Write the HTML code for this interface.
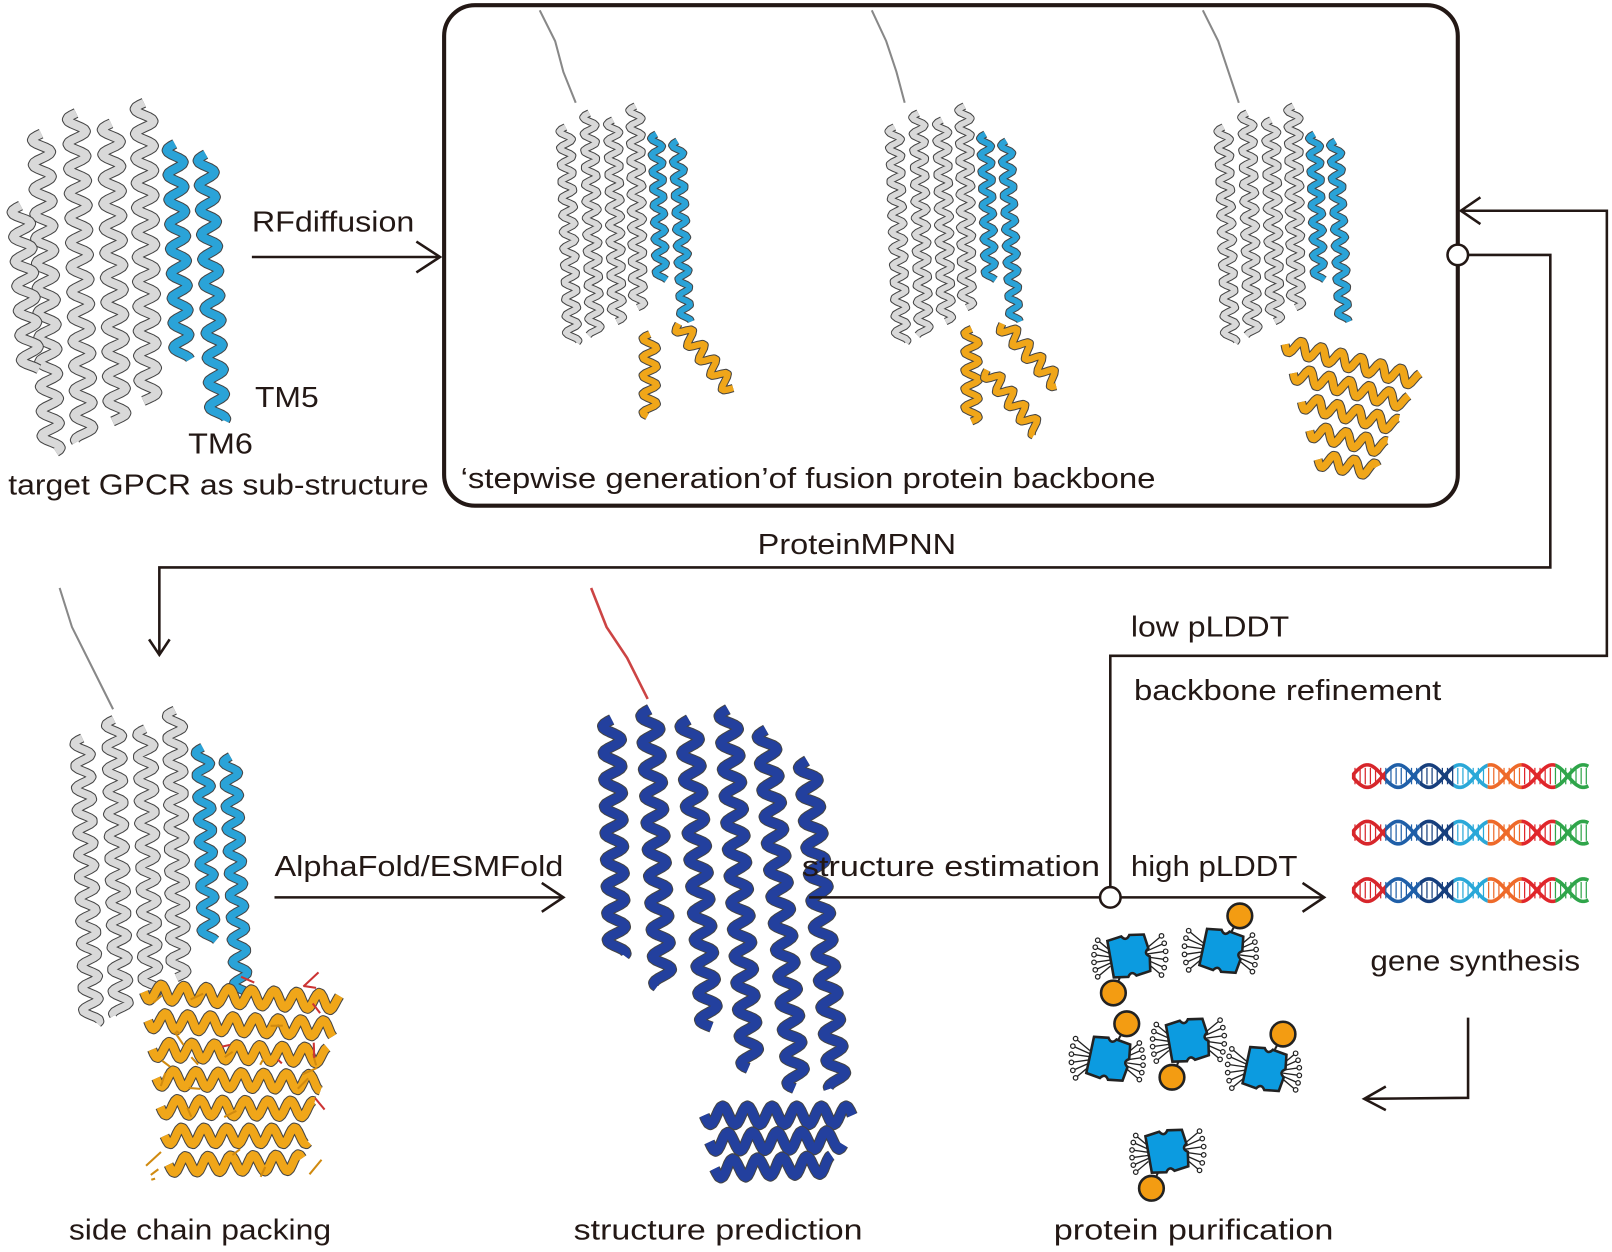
<!DOCTYPE html>
<html><head><meta charset="utf-8"><style>
html,body{margin:0;padding:0;background:#fff;}
svg{display:block;}
text{font-family:"Liberation Sans",sans-serif;font-size:28px;fill:#231815;}
</style></head><body>
<svg id="s" width="1612" height="1252" viewBox="0 0 1568 1218" preserveAspectRatio="none" xmlns="http://www.w3.org/2000/svg">
<g id="prot"></g>
<g fill="none" stroke="#231815" stroke-width="2.5">
<rect x="432" y="5" width="986" height="487" rx="30" stroke-width="4"/>
<line x1="245" y1="250" x2="428" y2="250"/>
<polyline points="405,235 428,250 405,265"/>
<polyline points="1428,248 1508,248 1508,552 155,552 155,636"/>
<polyline points="145,622 155,637 165,622"/>
<polyline points="1080,862 1080,638 1563,638 1563,205 1422,205"/>
<polyline points="1440,192 1421,205 1440,218"/>
<line x1="267" y1="873" x2="548" y2="873"/>
<polyline points="527,859 548,873 527,887"/>
<line x1="787" y1="873" x2="1288" y2="873"/>
<polyline points="1267,859 1288,873 1267,887"/>
<polyline points="1428,990 1428,1068 1327,1069"/>
<polyline points="1348,1057 1327,1069 1348,1080"/>
</g>
<circle cx="1418" cy="248" r="10" fill="#fff" stroke="#231815" stroke-width="2.5"/>
<circle cx="1080" cy="873" r="10" fill="#fff" stroke="#231815" stroke-width="2.5"/>
<g id="dna"></g>
<g id="icons"></g>
<text x="245" y="225" textLength="158" lengthAdjust="spacingAndGlyphs">RFdiffusion</text>
<text x="248" y="396" textLength="62" lengthAdjust="spacingAndGlyphs">TM5</text>
<text x="183" y="441" textLength="63" lengthAdjust="spacingAndGlyphs">TM6</text>
<text x="8" y="481" textLength="409" lengthAdjust="spacingAndGlyphs">target GPCR as sub-structure</text>
<text x="448" y="475" textLength="676" lengthAdjust="spacingAndGlyphs">‘stepwise generation’of fusion protein backbone</text>
<text x="737" y="539" textLength="193" lengthAdjust="spacingAndGlyphs">ProteinMPNN</text>
<text x="1100" y="619" textLength="154" lengthAdjust="spacingAndGlyphs">low pLDDT</text>
<text x="1103" y="681" textLength="299" lengthAdjust="spacingAndGlyphs">backbone refinement</text>
<text x="267" y="852" textLength="281" lengthAdjust="spacingAndGlyphs">AlphaFold/ESMFold</text>
<text x="780" y="852" textLength="290" lengthAdjust="spacingAndGlyphs">structure estimation</text>
<text x="1100" y="852" textLength="162" lengthAdjust="spacingAndGlyphs">high pLDDT</text>
<text x="1333" y="944" textLength="204" lengthAdjust="spacingAndGlyphs">gene synthesis</text>
<text x="67" y="1206" textLength="255" lengthAdjust="spacingAndGlyphs">side chain packing</text>
<text x="558" y="1206" textLength="281" lengthAdjust="spacingAndGlyphs">structure prediction</text>
<text x="1025" y="1206" textLength="272" lengthAdjust="spacingAndGlyphs">protein purification</text>
</svg>
<script>
var NS="http://www.w3.org/2000/svg";
var P=document.getElementById('prot');
function el(g,t,a){var e=document.createElementNS(NS,t);for(var k in a)e.setAttribute(k,a[k]);g.appendChild(e);return e;}
function helix(x1,y1,x2,y2,col,w,amp,per){
 amp=amp||8;per=per||22;w=w||7;
 var dx=x2-x1,dy=y2-y1,L=Math.hypot(dx,dy),ux=dx/L,uy=dy/L,nx=-uy,ny=ux,d="";
 for(var t=0;t<=L;t+=2){var o=amp*Math.sin(t/per*2*Math.PI);var x=x1+ux*t+nx*o,y=y1+uy*t+ny*o;d+=(t?"L":"M")+x.toFixed(1)+" "+y.toFixed(1);}
 el(P,'path',{d:d,fill:'none',stroke:'#444',"stroke-width":w+2,"stroke-linejoin":'round'});
 el(P,'path',{d:d,fill:'none',stroke:col,"stroke-width":w,"stroke-linejoin":'round'});
}
function tail(pts){el(P,'polyline',{points:pts,fill:'none',stroke:'#888',"stroke-width":2});}
var G='#d9d9d9',B='#2aa3d8',O='#f0a619',D='#23409e';
function gpcr(ox,oy,s){
 var gs=[[0,20,10,330],[34,0,42,320],[68,10,74,300],[100,-10,104,280]];
 gs.forEach(function(g){helix(ox+g[0]*s,oy+g[1]*s,ox+g[2]*s,oy+g[3]*s,G,8*s,9*s,24*s);});
 helix(ox+130*s,oy+30*s,ox+137*s,oy+240*s,B,8*s,8*s,24*s);
 helix(ox+160*s,oy+40*s,ox+172*s,oy+300*s,B,8*s,8*s,24*s);
}
gpcr(40,110,1.0);
helix(20,200,30,360,G,8,9,24);
tail("525,10 540,40 548,70 560,100");gpcr(550,110,0.68);
helix(632,325,632,405,O,6,7,18);helix(660,315,712,380,O,6,7,18);
tail("848,10 862,40 872,70 880,100");gpcr(870,110,0.68);
helix(945,320,945,410,O,6,7,18);helix(975,315,1030,375,O,6,7,18);helix(960,360,1010,420,O,6,7,18);
tail("1170,10 1185,40 1195,70 1205,100");gpcr(1190,110,0.68);
for(var i=0;i<5;i++){helix(1250+i*8,335+i*28,1380-i*10,370+i*22,O,7,7,20);}
tail("58,572 70,610 90,650 110,690");gpcr(80,700,0.9);
for(var i=0;i<7;i++){helix(140+i*4,965+i*28,330-i*6,975+i*26,O,8,8,22);}
for(var i=0;i<30;i++){var x=135+Math.random()*195,y=950+Math.random()*210;el(P,'line',{x1:x,y1:y,x2:x+(Math.random()-.5)*30,y2:y+(Math.random()-.5)*30,stroke:i%4?'#d08a10':'#c33',"stroke-width":2});}
el(P,'polyline',{points:"575,572 590,610 610,640 630,680",fill:'none',stroke:'#c44',"stroke-width":2.5});
var bh=[[595,700,600,930],[632,690,645,960],[670,700,690,1000],[708,690,730,1040],[745,710,775,1060],[785,740,815,1060]];
bh.forEach(function(h){helix(h[0],h[1],h[2],h[3],D,9,9,26);});
for(var i=0;i<3;i++)helix(685+i*5,1085+i*26,830-i*10,1085+i*24,D,9,9,24);
var Dg=document.getElementById('dna');
var cols=['#d7262b','#1f5fa8','#173f7d','#2aa8d8','#ee6a2a','#e0262b','#2fa54a'];
var defs=el(document.getElementById('s'),'defs',{});
for(var c=0;c<7;c++){var cp=el(defs,'clipPath',{id:'c'+c});el(cp,'rect',{x:1315+c*33,y:700,width:33,height:200});}
[755,810,866].forEach(function(yc){
 for(var k=0;k<2;k++){var d="";for(var x=1315;x<=1545;x+=2){var y=yc+11*Math.sin((x-1315)/30*Math.PI+(k?Math.PI:0));d+=(x==1315?"M":"L")+x+" "+y.toFixed(1);}
  for(var c=0;c<7;c++){el(Dg,'path',{d:d,fill:'none',stroke:cols[c],"stroke-width":3.5,"clip-path":"url(#c"+c+")"});}}
 for(var x=1318;x<1545;x+=5)el(Dg,'line',{x1:x,y1:yc-8,x2:x,y2:yc+8,stroke:cols[Math.floor((x-1315)/33)%7],"stroke-width":1.2});
});
var I=document.getElementById('icons');
[[1098,930,1],[1188,925,0],[1078,1030,0],[1155,1012,1],[1230,1040,0],[1135,1120,1]].forEach(function(p){
 var g=el(I,'g',{transform:'translate('+p[0]+','+p[1]+')'});
 var oy=p[2]?36:-34,ox=p[2]?-15:18;
 for(var j=0;j<6;j++){var a=(-40+j*16)*Math.PI/180,side=p[2]?1:-1;
  el(g,'line',{x1:side*18,y1:-8+j*3,x2:side*(18+18*Math.cos(a)),y2:-8+j*3+18*Math.sin(a),stroke:'#222',"stroke-width":1.3});
  el(g,'circle',{cx:side*(18+18*Math.cos(a)),cy:-8+j*3+18*Math.sin(a),r:2.2,fill:'#fff',stroke:'#222',"stroke-width":1.2});
  el(g,'line',{x1:-side*18,y1:-5+j*3,x2:-side*(18+16*Math.cos(a)),y2:-5+j*3+16*Math.sin(a),stroke:'#222',"stroke-width":1.3});
  el(g,'circle',{cx:-side*(18+16*Math.cos(a)),cy:-5+j*3+16*Math.sin(a),r:2.2,fill:'#fff',stroke:'#222',"stroke-width":1.2});}
 el(g,'line',{x1:0,y1:0,x2:ox,y2:oy,stroke:'#222',"stroke-width":2});
 el(g,'path',{d:"M-18,-18 L-4,-20 Q0,-14 4,-20 L18,-18 L20,-4 Q14,0 20,4 L18,18 L4,20 Q0,14 -4,20 L-18,18 Z",fill:'#0c9be0',stroke:'#222',"stroke-width":2.5,transform:'rotate('+(p[2]?-10:12)+')'});
 el(g,'circle',{cx:ox,cy:oy,r:12,fill:'#f39c12',stroke:'#222',"stroke-width":2.5});
});
</script>
</body></html>
